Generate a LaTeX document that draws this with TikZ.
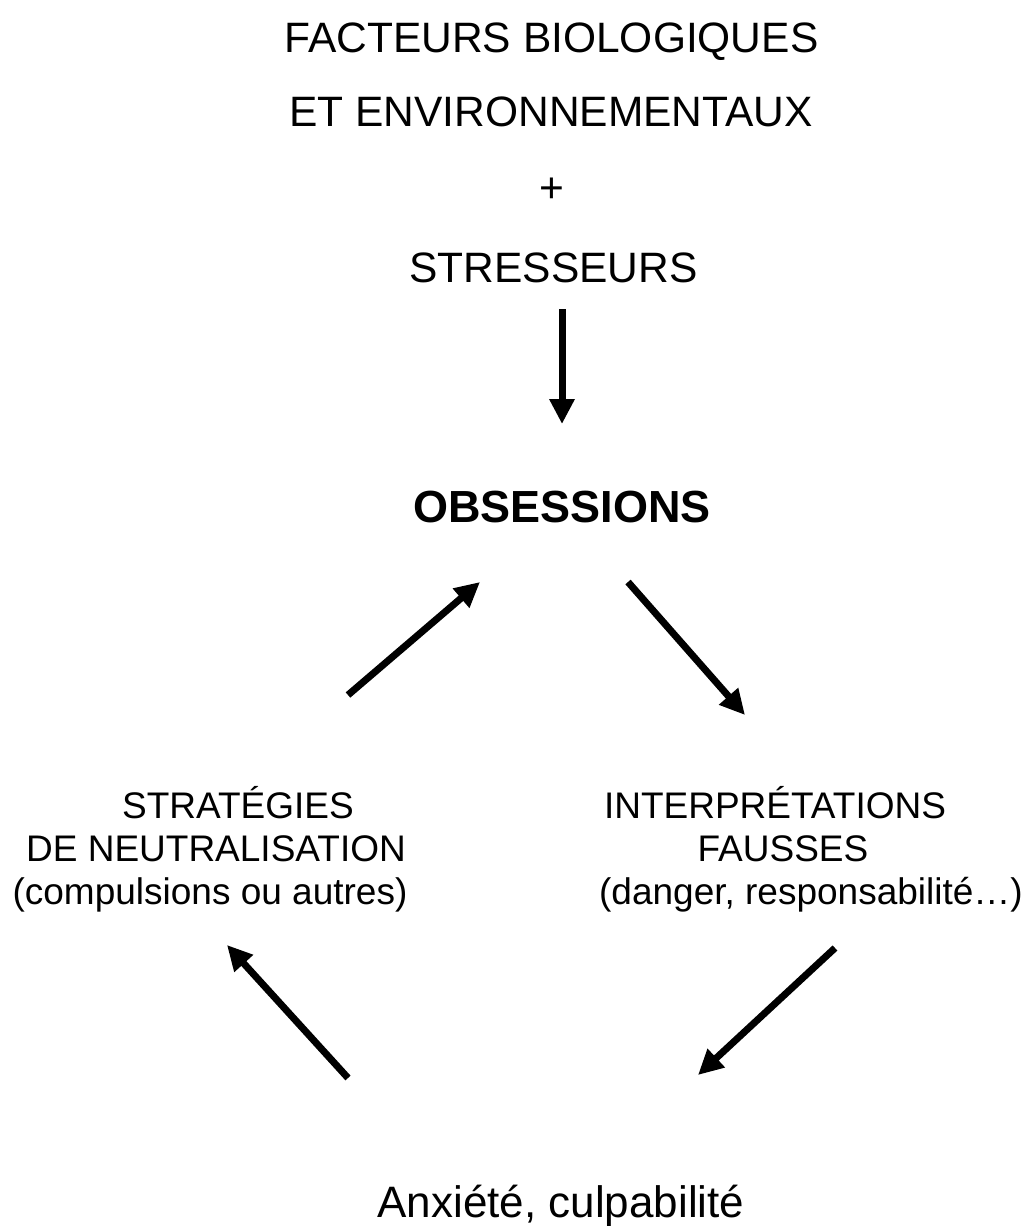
\documentclass[tikz,border=0pt]{standalone}
\usepackage{fontspec}
\setmainfont{Liberation Sans}
\usetikzlibrary{arrows.meta}
\tikzset{
  big/.style={anchor=base, inner sep=0pt, font=\fontsize{42.5}{50}\selectfont},
  lbl/.style={anchor=base, inner sep=0pt, font=\fontsize{37}{44}\selectfont},
  obs/.style={anchor=base, inner sep=0pt, font=\fontsize{45}{52}\selectfont\bfseries},
  anx/.style={anchor=base, inner sep=0pt, font=\fontsize{44}{52}\selectfont},
  arr/.style={line width=7pt, -{Triangle[length=25pt,width=24pt]}}
}
\begin{document}
\begin{tikzpicture}[x=1pt,y=-1pt]
\useasboundingbox (0,0) rectangle (1035,1226);
\node[big] (f1) at (551.5,52) {FACTEURS BIOLOGIQUES};
\node[big] (f2) at (551,126) {ET ENVIRONNEMENTAUX};
\node[big] (plus) at (552,202) {+};
\node[big] (str) at (553.5,282) {STRESSEURS};
\node[obs] (obs) at (562,522) {OBSESSIONS};
\node[lbl] (s1) at (238,818) {STRATÉGIES};
\node[lbl] (s2) at (216,861) {DE NEUTRALISATION};
\node[lbl] (s3) at (210,904) {(compulsions ou autres)};
\node[lbl] (i1) at (775,818) {INTERPRÉTATIONS};
\node[lbl] (i2) at (783,861) {FAUSSES};
\node[lbl] (i3) at (811,904) {(danger, responsabilité…)};
\node[anx] (anx) at (561,1217) {Anxiété, culpabilité};
\coordinate (a0s) at (562,309);
\coordinate (a0e) at (562,424);
\coordinate (a1s) at (628,582);
\coordinate (a1e) at (745,715);
\coordinate (a2s) at (835,948);
\coordinate (a2e) at (698,1075);
\coordinate (a3s) at (348,1078);
\coordinate (a3e) at (227,945);
\coordinate (a4s) at (348,695);
\coordinate (a4e) at (480,582);
\draw[arr] (a0s) -- (a0e);
\draw[arr] (a1s) -- (a1e);
\draw[arr] (a2s) -- (a2e);
\draw[arr] (a3s) -- (a3e);
\draw[arr] (a4s) -- (a4e);
\end{tikzpicture}
\end{document}
